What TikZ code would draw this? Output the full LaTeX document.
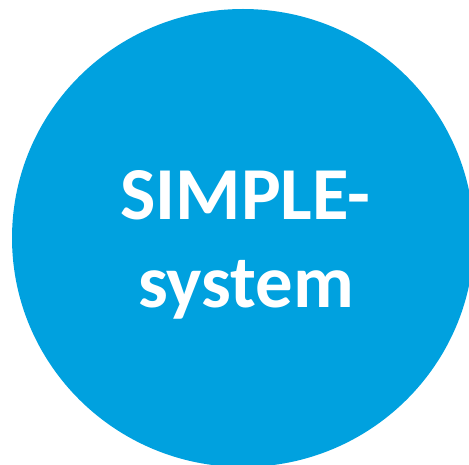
\documentclass[tikz,border=0pt]{standalone}
\usepackage{fontspec}
\setmainfont{Carlito}
\usepackage{xcolor}
\usetikzlibrary{positioning}
\definecolor{simpleblue}{RGB}{0,161,223}
\tikzset{
disc/.style={%
    fill=simpleblue,
    draw=none,
},
label text/.style={%
    text=white,
    inner sep=0pt,
    font=\fontsize{75}{87}\selectfont\bfseries
},
}

\begin{document}
\begin{tikzpicture}[x=1bp,y=-1bp]
	\useasboundingbox (0,0) rectangle (469,465);
	\clip (0,0) rectangle (469,465);
	\fill[disc] (243,238) ellipse [x radius=231, y radius=229];
	\node[label text, anchor=base] at (245.5,220) (top) {SIMPLE-};
	\node[label text, anchor=base] at (246,307) (bottom) {system};
\end{tikzpicture}
\end{document}
